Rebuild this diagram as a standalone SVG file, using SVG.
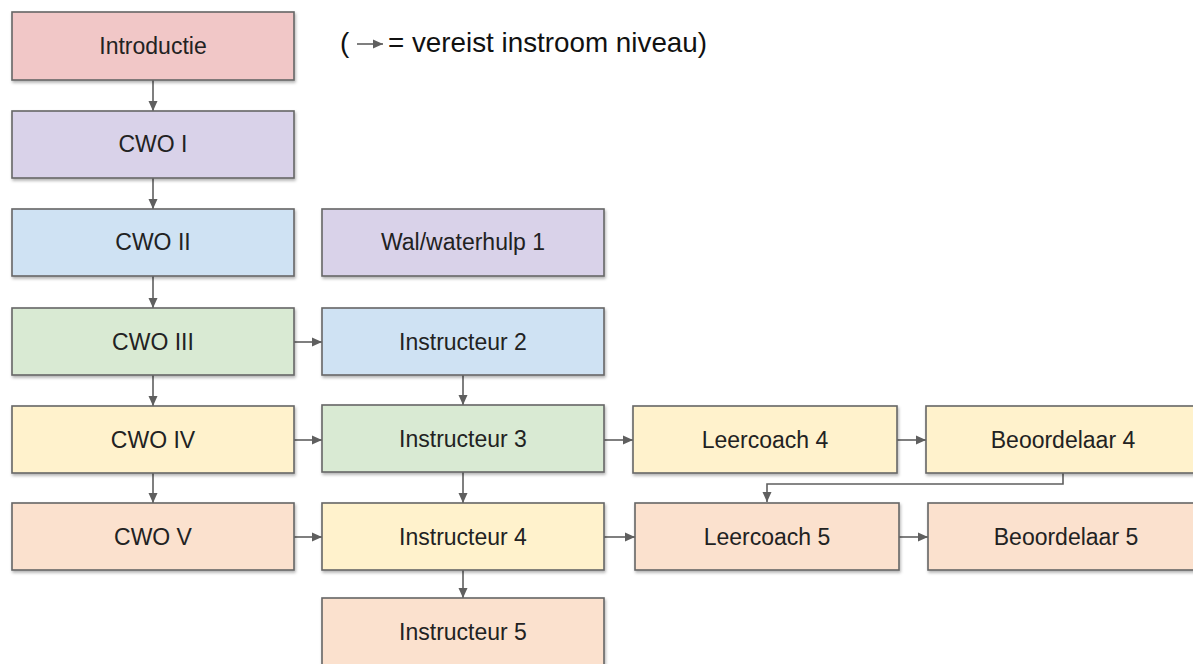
<svg xmlns="http://www.w3.org/2000/svg" width="1193" height="664" viewBox="0 0 1193 664">
<defs>
<style>
.n rect{stroke:#666;stroke-width:1.6;filter:url(#sh)}
.n text{font-family:"Liberation Sans",Arial,sans-serif;font-size:23px;fill:#222;text-anchor:middle}
.c{stroke:#5f5f5f;stroke-width:1.6;fill:none;marker-end:url(#ah)}
.lg{font-family:"Liberation Sans",Arial,sans-serif;font-size:27.8px;fill:#111}
</style>
<filter id="sh" x="-5%" y="-10%" width="115%" height="130%"><feDropShadow dx="1" dy="2" stdDeviation="1.5" flood-color="#000" flood-opacity="0.3"/></filter>
<marker id="ah" markerUnits="userSpaceOnUse" markerWidth="10" markerHeight="10" refX="10" refY="5" orient="auto"><path d="M0,0.5 L10,5 L0,9.5 z" fill="#5f5f5f"/></marker>
</defs>
<rect width="1193" height="664" fill="#fff"/>
<g id="legend">
<text class="lg" x="340" y="52">(</text>
<line x1="357" y1="44" x2="383" y2="44" class="c"/>
<text class="lg" x="388" y="52">= vereist instroom niveau)</text>
</g>
<g id="connectors">
<line class="c" x1="153" y1="80" x2="153" y2="111"/>
<line class="c" x1="153" y1="178" x2="153" y2="209"/>
<line class="c" x1="153" y1="276" x2="153" y2="308"/>
<line class="c" x1="153" y1="375" x2="153" y2="406"/>
<line class="c" x1="153" y1="473" x2="153" y2="503"/>
<line class="c" x1="294" y1="342" x2="322" y2="342"/>
<line class="c" x1="294" y1="440" x2="322" y2="440"/>
<line class="c" x1="294" y1="537" x2="322" y2="537"/>
<line class="c" x1="463" y1="375" x2="463" y2="405"/>
<line class="c" x1="463" y1="472" x2="463" y2="503"/>
<line class="c" x1="463" y1="570" x2="463" y2="598"/>
<line class="c" x1="604" y1="440" x2="633" y2="440"/>
<line class="c" x1="897" y1="440" x2="926" y2="440"/>
<line class="c" x1="604" y1="537" x2="635" y2="537"/>
<line class="c" x1="899" y1="537" x2="928" y2="537"/>
<polyline class="c" points="1063,473 1063,484 767,484 767,502"/>
</g>
<g id="introductie" class="n"><rect x="12" y="12" width="282" height="68" fill="#f1c7c7"/><text x="153" y="54">Introductie</text></g>
<g id="cwo1" class="n"><rect x="12" y="111" width="282" height="67" fill="#d9d2e9"/><text x="153" y="152">CWO I</text></g>
<g id="cwo2" class="n"><rect x="12" y="209" width="282" height="67" fill="#cfe2f3"/><text x="153" y="250">CWO II</text></g>
<g id="cwo3" class="n"><rect x="12" y="308" width="282" height="67" fill="#d9ead3"/><text x="153" y="350">CWO III</text></g>
<g id="cwo4" class="n"><rect x="12" y="406" width="282" height="67" fill="#fff2cc"/><text x="153" y="448">CWO IV</text></g>
<g id="cwo5" class="n"><rect x="12" y="503" width="282" height="67" fill="#fbe1ce"/><text x="153" y="545">CWO V</text></g>
<g id="walwaterhulp1" class="n"><rect x="322" y="209" width="282" height="67" fill="#d9d2e9"/><text x="463" y="250">Wal/waterhulp 1</text></g>
<g id="instructeur2" class="n"><rect x="322" y="308" width="282" height="67" fill="#cfe2f3"/><text x="463" y="350">Instructeur 2</text></g>
<g id="instructeur3" class="n"><rect x="322" y="405" width="282" height="67" fill="#d9ead3"/><text x="463" y="447">Instructeur 3</text></g>
<g id="instructeur4" class="n"><rect x="322" y="503" width="282" height="67" fill="#fff2cc"/><text x="463" y="545">Instructeur 4</text></g>
<g id="instructeur5" class="n"><rect x="322" y="598" width="282" height="80" fill="#fbe1ce"/><text x="463" y="640">Instructeur 5</text></g>
<g id="leercoach4" class="n"><rect x="633" y="406" width="264" height="67" fill="#fff2cc"/><text x="765" y="448">Leercoach 4</text></g>
<g id="beoordelaar4" class="n"><rect x="926" y="406" width="280" height="67" fill="#fff2cc"/><text x="1063" y="448">Beoordelaar 4</text></g>
<g id="leercoach5" class="n"><rect x="635" y="503" width="264" height="67" fill="#fbe1ce"/><text x="767" y="545">Leercoach 5</text></g>
<g id="beoordelaar5" class="n"><rect x="928" y="503" width="280" height="67" fill="#fbe1ce"/><text x="1066" y="545">Beoordelaar 5</text></g>
</svg>
